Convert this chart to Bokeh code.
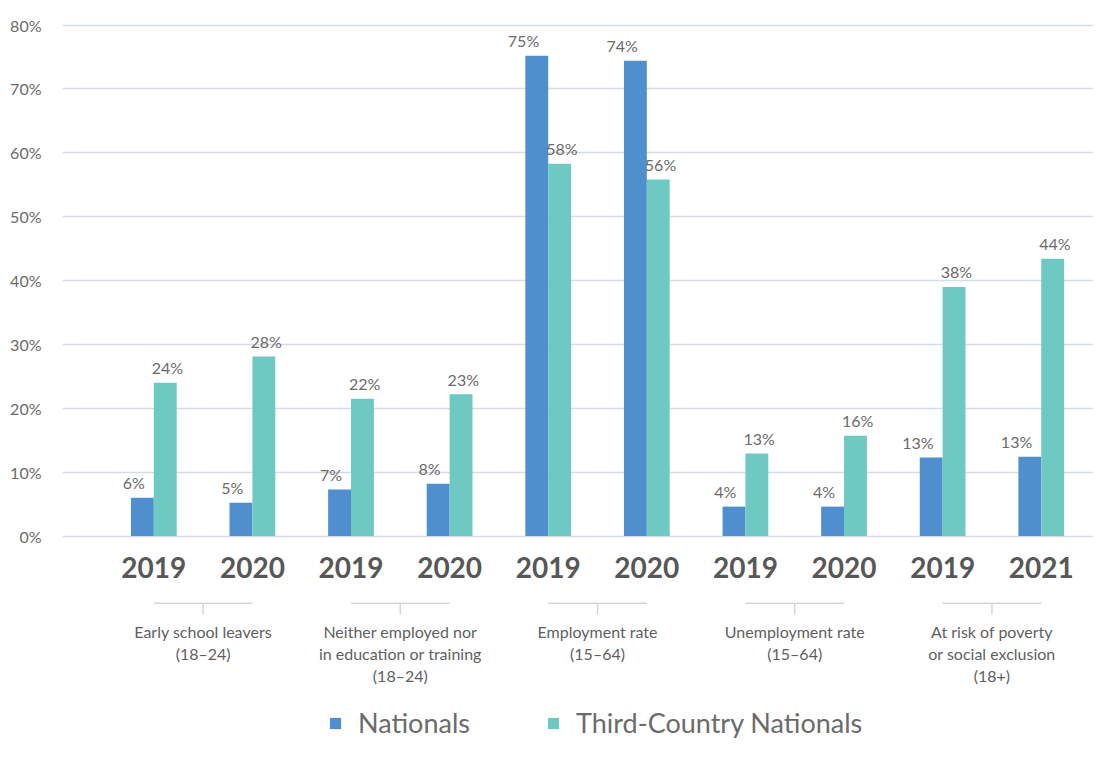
from bokeh.plotting import figure
from bokeh.models import (ColumnDataSource, Range1d, FixedTicker, PrintfTickFormatter,
                          Legend, LegendItem)
from bokeh.transform import dodge
from bokeh.core.properties import value
from bokeh.embed import file_html
from bokeh.resources import INLINE

# ---------------- data ----------------
categories = [
    "Early school leavers\n(18–24)",
    "Neither employed nor\nin education or training\n(18–24)",
    "Employment rate\n(15–64)",
    "Unemployment rate\n(15–64)",
    "At risk of poverty\nor social exclusion\n(18+)",
]
years = ["2019", "2020", "2019", "2020", "2019", "2020", "2019", "2020", "2019", "2021"]
nationals = [6.0, 5.2, 7.3, 8.2, 75.2, 74.4, 4.6, 4.6, 12.3, 12.4]
third_country = [24.0, 28.1, 21.5, 22.2, 58.3, 55.8, 12.9, 15.7, 39.0, 43.4]
nationals_labels = ["6%", "5%", "7%", "8%", "75%", "74%", "4%", "4%", "13%", "13%"]
third_country_labels = ["24%", "28%", "22%", "23%", "58%", "56%", "13%", "16%", "38%", "44%"]
y_ticks = [0, 10, 20, 30, 40, 50, 60, 70, 80]

NAT_COLOR = "#4f8fcd"
TCN_COLOR = "#6dc9c2"
FONT = "Lato"

idx = list(range(len(years)))
src = ColumnDataSource(dict(x=idx, year=years, nat=nationals, tcn=third_country,
                            nat_lab=nationals_labels, tcn_lab=third_country_labels))

p = figure(width=1093, height=742, output_backend="svg", toolbar_location=None,
           x_range=Range1d(-0.926, 9.530), y_range=Range1d(-32.33, 83.84),
           x_axis_location=None,
           min_border_left=62, min_border_right=0, min_border_top=0, min_border_bottom=0)
p.outline_line_color = None
p.background_fill_color = "white"
p.border_fill_color = "white"

# y axis
p.yaxis.ticker = FixedTicker(ticks=y_ticks)
p.yaxis.formatter = PrintfTickFormatter(format="%d%%")
p.yaxis.axis_line_color = None
p.yaxis.major_tick_line_color = None
p.yaxis.minor_tick_line_color = None
p.yaxis.major_label_standoff = 15
p.yaxis.major_label_text_font = FONT
p.yaxis.major_label_text_font_size = "16px"
p.yaxis.major_label_text_color = "#6b6b6b"
p.ygrid.grid_line_color = "#d5dce3"
p.ygrid.grid_line_width = 1.5
p.xgrid.visible = False

bw = 0.232
r1 = p.vbar(x=dodge("x", -bw / 2), top="nat", bottom=0, width=bw, source=src,
            fill_color=NAT_COLOR, line_color=None)
r2 = p.vbar(x=dodge("x", bw / 2), top="tcn", bottom=0, width=bw, source=src,
            fill_color=TCN_COLOR, line_color=None)

# value labels
p.text(x="x", y="nat", text="nat_lab", source=src, text_align="right",
       text_baseline="alphabetic", x_offset=-9, y_offset=-15,
       text_font=value(FONT), text_font_size="16px", text_color="#6b6b6b")
p.text(x="x", y="tcn", text="tcn_lab", source=src, text_align="left",
       text_baseline="alphabetic", x_offset=-2, y_offset=-15,
       text_font=value(FONT), text_font_size="16px", text_color="#6b6b6b")

# year labels
p.text(x="x", y=-4.88, text="year", source=src, text_align="center",
       text_baseline="middle", text_font=value(FONT), text_font_size="28px",
       text_font_style="bold", text_color="#575757")

# group brackets and category labels
gx0 = [2 * g for g in range(len(categories))]
gx1 = [2 * g + 1 for g in range(len(categories))]
gxm = [2 * g + 0.5 for g in range(len(categories))]
p.segment(x0=gx0, x1=gx1, y0=-10.52, y1=-10.52, line_color="#cfd8e0", line_width=1.5)
p.segment(x0=gxm, x1=gxm, y0=-10.52, y1=-12.29, line_color="#cfd8e0", line_width=1.5)
p.text(x=gxm, y=-13.54, text=categories, text_align="center", text_baseline="top",
       text_font=value(FONT), text_font_size="16px", text_line_height=1.15,
       text_color="#5f5f5f")

legend = Legend(items=[LegendItem(label="Nationals", renderers=[r1]),
                       LegendItem(label="Third-Country Nationals", renderers=[r2])],
                orientation="horizontal", location=(266, 3), padding=0, margin=0,
                spacing=76, label_standoff=16, glyph_width=14, glyph_height=14,
                label_text_font=FONT, label_text_font_size="27px",
                label_text_color="#6b6b6b", border_line_color=None,
                background_fill_alpha=0)
p.add_layout(legend)

open("out.html", "w").write(file_html(p, INLINE))
